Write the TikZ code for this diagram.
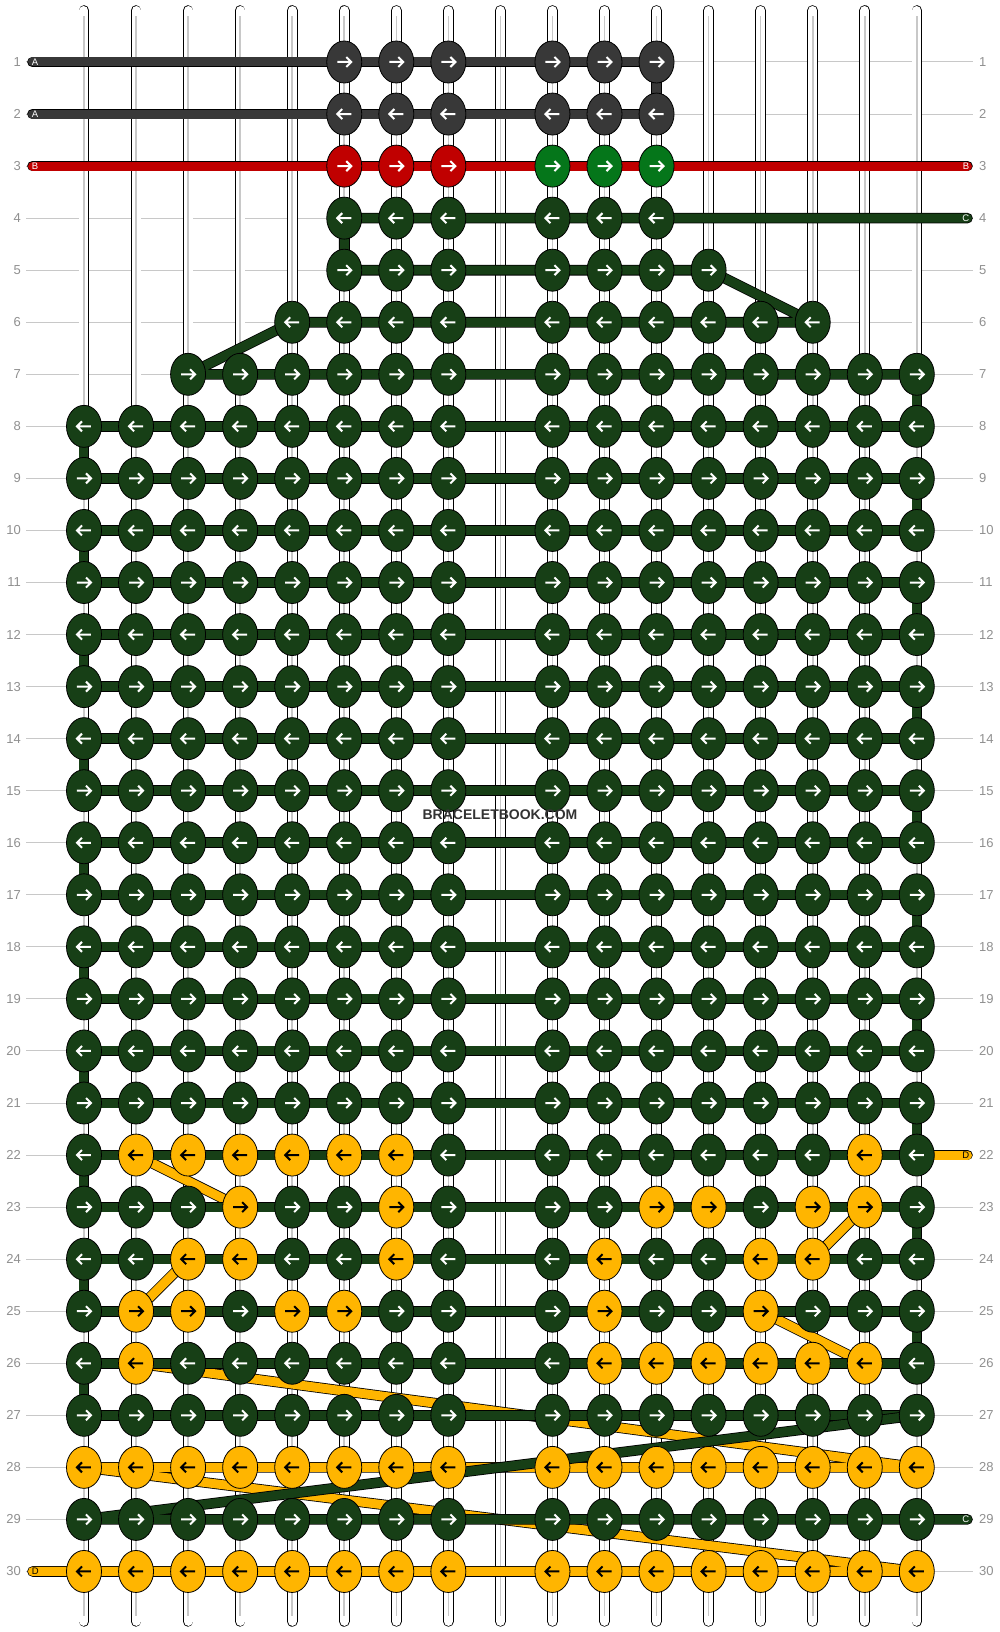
\documentclass[tikz,border=0pt]{standalone}
\usepackage{fontspec}
\setmainfont{Liberation Sans}
\usetikzlibrary{shapes.geometric}

\definecolor{threadA}{HTML}{383838}
\definecolor{threadB}{HTML}{C00000}
\definecolor{knotG}{HTML}{05761A}
\definecolor{threadC}{HTML}{173F16}
\definecolor{threadD}{HTML}{FFB500}
\definecolor{rowgray}{HTML}{C8C8C8}
\definecolor{numgray}{HTML}{909090}
\definecolor{markgray}{HTML}{333333}

\pgfdeclarelayer{strings}
\pgfdeclarelayer{threads}
\pgfsetlayers{strings,threads,main}

\tikzset{
  knot/.style={ellipse, draw=black, line width=0.8pt, fill=#1,
    minimum width=35pt, minimum height=42pt, inner sep=0pt},
  goR/.style={path picture={\draw[#1, line width=2pt,
      shift={(path picture bounding box.center)}]
      (-7pt,0pt) -- (7pt,0pt) (2pt,5pt) -- (7pt,0pt) -- (2pt,-5pt);}},
  goL/.style={path picture={\draw[#1, line width=2pt,
      shift={(path picture bounding box.center)}]
      (7pt,0pt) -- (-7pt,0pt) (-2pt,5pt) -- (-7pt,0pt) -- (-2pt,-5pt);}},
  thread/.style={draw=black, line width=0.8pt, double=#1,
    double distance=9pt, line join=round},
  warp/.style={thread=white, line cap=round},
  endlabel/.style={font=\fontsize{9.5}{10}\selectfont, inner sep=0pt, text=#1},
  rownum/.style={font=\fontsize{13}{14}\selectfont, text=numgray, inner sep=0pt}
}

\newcommand\allcols{1,2,3,4,5,6,7,8,10,11,12,13,14,15,16,17}

% one row of knots: row, columns, fill, arrow colour
\newcommand\knotrow[4]{%
  \edef\knotcols{#2}%
  \foreach \c in \knotcols {%
    \ifodd#1\relax
      \node[knot=#3, goR=#4] (k-#1-\c) at (\c,#1) {};
    \else
      \node[knot=#3, goL=#4] (k-#1-\c) at (\c,#1) {};
    \fi}}

\begin{document}
\begin{tikzpicture}[x=52.05pt, y=-52.05pt]
\useasboundingbox (-0.6138,-0.1912) rectangle (18.5985,31.1633);

\begin{pgfonlayer}{strings}
  \fill[white] (-0.6138,-0.1912) rectangle (18.5985,31.1633);
  \foreach \r in {1,...,30}
    \draw[rowgray, line width=1pt] (-0.114,\r) -- (18.08,\r);
  \foreach \c in {1,...,17} {
    \draw[warp] (\c,0.01) -- (\c,30.96);
    \draw[rowgray, line width=1.6pt] (\c,0.12) -- (\c,30.85);
  }
\end{pgfonlayer}

\foreach \r in {1,...,30} {
  \node[rownum, anchor=east] (nl-\r) at (-0.21,\r) {\r};
  \node[rownum, anchor=west] (nr-\r) at (18.195,\r) {\r};
}

% knots
\knotrow{1}{6,7,8,10,11,12}{threadA}{white}
\knotrow{2}{6,7,8,10,11,12}{threadA}{white}
\knotrow{3}{6,7,8}{threadB}{white}
\knotrow{3}{10,11,12}{knotG}{white}
\knotrow{4}{6,7,8,10,11,12}{threadC}{white}
\knotrow{5}{6,7,8,10,11,12,13}{threadC}{white}
\knotrow{6}{5,6,7,8,10,11,12,13,14,15}{threadC}{white}
\knotrow{7}{3,4,5,6,7,8,10,11,12,13,14,15,16,17}{threadC}{white}
\foreach \r in {8,9,10,11,12,13,14,15,16,17,18,19,20,21,27,29} {
  \knotrow{\r}{\allcols}{threadC}{white}
}
\knotrow{22}{2,3,4,5,6,7,16}{threadD}{black}
\knotrow{22}{1,8,10,11,12,13,14,15,17}{threadC}{white}
\knotrow{23}{4,7,12,13,15,16}{threadD}{black}
\knotrow{23}{1,2,3,5,6,8,10,11,14,17}{threadC}{white}
\knotrow{24}{3,4,7,11,14,15}{threadD}{black}
\knotrow{24}{1,2,5,6,8,10,12,13,16,17}{threadC}{white}
\knotrow{25}{2,3,5,6,11,14}{threadD}{black}
\knotrow{25}{1,4,7,8,10,12,13,15,16,17}{threadC}{white}
\knotrow{26}{2,11,12,13,14,15,16}{threadD}{black}
\knotrow{26}{1,3,4,5,6,7,8,10,17}{threadC}{white}
\knotrow{28}{\allcols}{threadD}{black}
\knotrow{30}{\allcols}{threadD}{black}

\begin{pgfonlayer}{threads}
  % D
  \coordinate (d-in) at (17.974,22);
  \coordinate (d-out) at (0.01,30);
  \draw[thread=threadD, line cap=round] (d-in) -- (k-22-17.center);
  \draw[thread=threadD] (k-22-2.center) -- (k-23-4.center);
  \draw[thread=threadD] (k-23-16.center) -- (k-24-15.center);
  \draw[thread=threadD] (k-24-3.center) -- (k-25-2.center);
  \draw[thread=threadD] (k-25-14.center) -- (k-26-16.center);
  \draw[thread=threadD, line cap=round] (k-26-2.center) -- (k-28-17.center)
    -- (k-28-1.center) -- (k-30-17.center) -- (d-out);
  % C
  \coordinate (c-in) at (17.974,4);
  \coordinate (c-out) at (17.974,29);
  \draw[thread=threadC, line cap=round] (c-in) -- (k-4-6.center) -- (k-5-6.center)
    -- (k-5-13.center) -- (k-6-15.center) -- (k-6-5.center) -- (k-7-3.center)
    -- (k-7-17.center);
  \foreach \r [evaluate=\r as \e using {int(mod(\r,2)*16+1)},
               evaluate=\r as \n using {int(\r+1)}] in {7,...,26} {
    \draw[thread=threadC] (k-\r-\e.center) -- (k-\n-\e.center);
  }
  \foreach \r in {8,...,27} {
    \draw[thread=threadC] (k-\r-1.center) -- (k-\r-17.center);
  }
  \draw[thread=threadC, line cap=round] (k-27-17.center) -- (k-29-1.center) -- (c-out);
  % A and B
  \coordinate (a-in) at (0.01,1);
  \coordinate (a-out) at (0.01,2);
  \draw[thread=threadA, line cap=round] (a-in) -- (k-1-12.center)
    -- (k-2-12.center) -- (a-out);
  \coordinate (b-in) at (0.01,3);
  \coordinate (b-out) at (17.974,3);
  \draw[thread=threadB, line cap=round] (b-in) -- (b-out);
\end{pgfonlayer}

% thread ends
\node[endlabel=white, anchor=west] (la-in) at (-0.005,1) {A};
\node[endlabel=white, anchor=west] (la-out) at (-0.005,2) {A};
\node[endlabel=white, anchor=west] (lb-in) at (-0.005,3) {B};
\node[endlabel=white, anchor=east] (lb-out) at (18.01,3) {B};
\node[endlabel=white, anchor=east] (lc-in) at (18.01,4) {C};
\node[endlabel=black, anchor=east] (ld-in) at (18.01,22) {D};
\node[endlabel=white, anchor=east] (lc-out) at (18.01,29) {C};
\node[endlabel=black, anchor=west] (ld-out) at (-0.005,30) {D};

\node[font=\bfseries\fontsize{14}{16}\selectfont, text=markgray] (mark)
  at (8.992,15.467) {BRACELETBOOK.COM};
\end{tikzpicture}
\end{document}
